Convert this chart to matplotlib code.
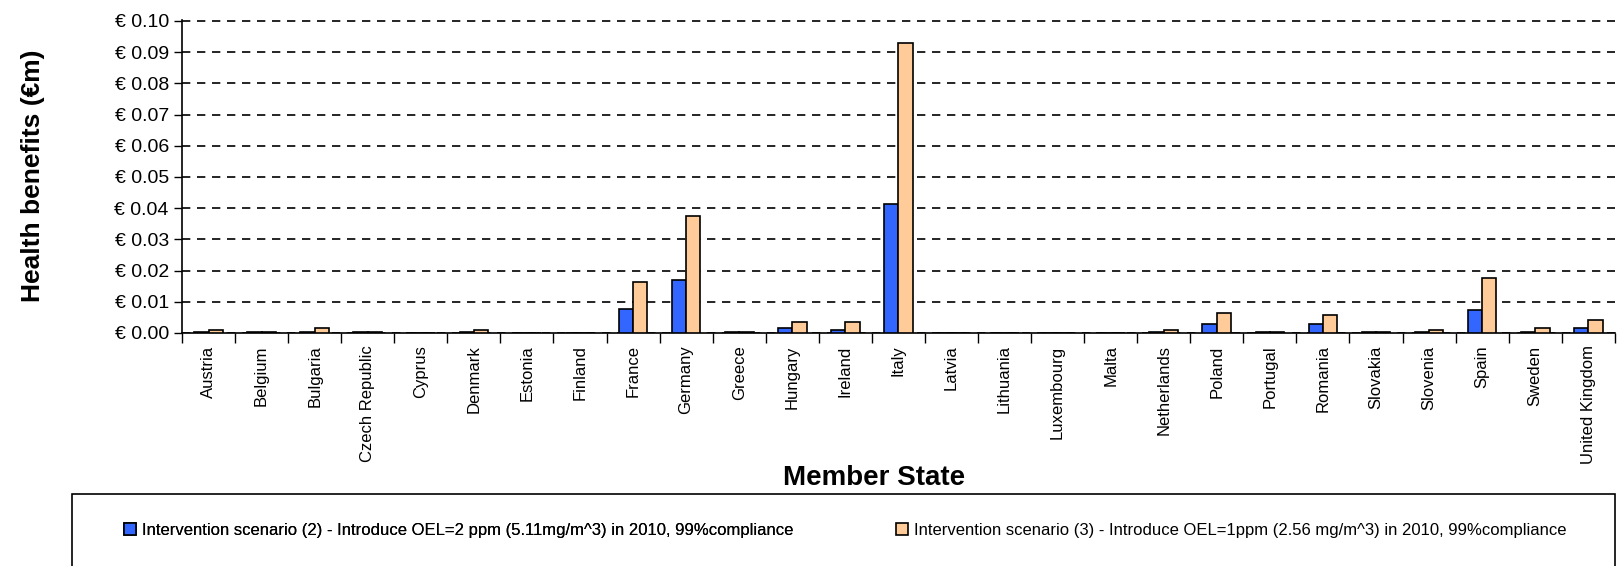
import matplotlib.pyplot as plt
import numpy as np
from matplotlib.patches import Rectangle
from matplotlib.ticker import FuncFormatter

plt.rcParams['font.family'] = ['Liberation Sans', 'DejaVu Sans']

# Data (health benefits, EUR million)
countries = ['Austria', 'Belgium', 'Bulgaria', 'Czech Republic', 'Cyprus', 'Denmark',
             'Estonia', 'Finland', 'France', 'Germany', 'Greece', 'Hungary', 'Ireland',
             'Italy', 'Latvia', 'Lithuania', 'Luxembourg', 'Malta', 'Netherlands',
             'Poland', 'Portugal', 'Romania', 'Slovakia', 'Slovenia', 'Spain', 'Sweden',
             'United Kingdom']
scenario2 = [0.0004, 0.0003, 0.0004, 0.0004, 0.0, 0.0004, 0.0, 0.0, 0.0076, 0.0170,
             0.0004, 0.0017, 0.0010, 0.0412, 0.0, 0.0, 0.0, 0.0, 0.0004, 0.0029,
             0.0004, 0.0029, 0.0004, 0.0004, 0.0075, 0.0004, 0.0017]
scenario3 = [0.0010, 0.0003, 0.0017, 0.0004, 0.0, 0.0011, 0.0, 0.0, 0.0164, 0.0376,
             0.0004, 0.0034, 0.0034, 0.0930, 0.0, 0.0, 0.0, 0.0, 0.0011, 0.0064,
             0.0004, 0.0058, 0.0004, 0.0010, 0.0175, 0.0017, 0.0040]
labels = ['Intervention scenario (2) - Introduce OEL=2 ppm (5.11mg/m^3) in 2010, 99%compliance',
          'Intervention scenario (3) - Introduce OEL=1ppm (2.56 mg/m^3) in 2010, 99%compliance']

fig = plt.figure(figsize=(16.19, 5.66), dpi=100)
ax = fig.add_axes([0.1124, 0.4117, 0.885, 0.553])

x = np.arange(len(countries))
w = 0.27
b2 = ax.bar(x - w / 2, scenario2, w, color='#3366FF', edgecolor='black', linewidth=1.2, zorder=3)
b3 = ax.bar(x + w / 2, scenario3, w, color='#FFCC99', edgecolor='black', linewidth=1.2, zorder=3)

ax.set_xlim(-0.5, len(countries) - 0.5)
ax.set_ylim(0, 0.1003)
ax.set_yticks(np.arange(0, 0.101, 0.01))
ax.yaxis.set_major_formatter(FuncFormatter(lambda v, p: f'€ {v:.2f}'))
ax.set_xticks(np.arange(len(countries) + 1) - 0.5, minor=False)
ax.set_xticklabels([])
ax.set_xticks(x, minor=True)
ax.set_xticklabels(countries, minor=True, rotation=90, fontsize=12)
ax.tick_params(axis='x', which='minor', length=0, pad=9)
ax.tick_params(axis='x', which='major', length=7, direction='out', width=1)
ax.tick_params(axis='y', labelsize=14, length=6, width=1)
ax.grid(axis='y', linestyle=(0, (5, 4)), color='black', linewidth=1.2, zorder=0)

for s in ['top', 'right']:
    ax.spines[s].set_visible(False)
ax.spines['left'].set_linewidth(1.2)
ax.spines['bottom'].set_linewidth(1.2)

fig.text(874 / 1619, 1 - 478 / 566, 'Member State', ha='center', va='center', fontsize=20, fontweight='bold')
fig.text(33 / 1619, 0.69, 'Health benefits (€m)', ha='center', va='center', rotation=90,
         fontsize=19, fontweight='bold')

# legend box
fig.patches.append(Rectangle((72 / 1619, -0.05), (1615 - 72) / 1619, (1 - 494 / 566) + 0.05,
                             transform=fig.transFigure, fill=False, edgecolor='black', linewidth=1.2))
leg_y = 1 - 530 / 566
l1 = fig.legend([b2], [labels[0]], loc='center left', bbox_to_anchor=(109 / 1619, leg_y), frameon=False,
                fontsize=12, handlelength=0.7, handleheight=0.7, handletextpad=0.4)
fig.add_artist(l1)
fig.legend([b3], [labels[1]], loc='center left', bbox_to_anchor=(881 / 1619, leg_y), frameon=False,
           fontsize=12, handlelength=0.7, handleheight=0.7, handletextpad=0.4)

plt.savefig('out.png', dpi=100)
